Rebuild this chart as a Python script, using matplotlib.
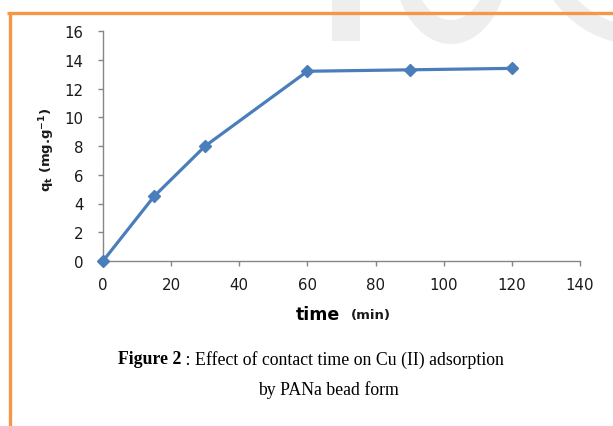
import matplotlib
matplotlib.use("Agg")
import matplotlib.pyplot as plt
from matplotlib.patches import Rectangle, Ellipse

# Data
time_min = [0, 15, 30, 60, 90, 120]
qt_values = [0, 4.5, 8.0, 13.2, 13.3, 13.4]
x_ticks = [0, 20, 40, 60, 80, 100, 120, 140]
y_ticks = [0, 2, 4, 6, 8, 10, 12, 14, 16]

W, H = 613, 427
fig = plt.figure(figsize=(W / 100, H / 100), dpi=100)
fig.patch.set_facecolor("white")

# overlay in pixel coordinates (top-left origin)
ov = fig.add_axes([0, 0, 1, 1], zorder=0)
ov.set_xlim(0, W)
ov.set_ylim(H, 0)
ov.axis("off")

wm = "#eeeeee"
# watermark fragments
ov.add_patch(Rectangle((332, -10), 28, 52, color=wm, lw=0))
ov.add_patch(Ellipse((451, -40), 116, 170, color=wm, lw=0))
ov.add_patch(Ellipse((451, -40), 78, 122, color="white", lw=0))
ov.add_patch(Ellipse((640, -60), 212, 212, color=wm, lw=0))
ov.add_patch(Ellipse((640, -60), 174, 174, color="white", lw=0))

# orange frame
orange = "#f79646"
ov.plot([7, W], [14, 14], color=orange, lw=2.4, solid_capstyle="butt", zorder=3)
ov.plot([10, 10], [13, H], color=orange, lw=2.4, solid_capstyle="butt", zorder=3)

# main axes
ax = fig.add_axes([103 / W, 1 - 262 / H, (580 - 103) / W, (262 - 32) / H], zorder=2)
ax.set_facecolor("none")
ax.plot(time_min, qt_values, color="#4a7ebb", lw=2.3, marker="D", markersize=6.5,
        markerfacecolor="#4a7ebb", markeredgecolor="#4a7ebb", clip_on=False, zorder=5)

ax.set_xlim(0, 140)
ax.set_ylim(0, 16)
ax.set_xticks(x_ticks)
ax.set_yticks(y_ticks)
ax.set_xticklabels([str(v) for v in x_ticks])
ax.set_yticklabels([str(v) for v in y_ticks])

grey = "#868686"
for s in ["top", "right"]:
    ax.spines[s].set_visible(False)
for s in ["left", "bottom"]:
    ax.spines[s].set_color(grey)
    ax.spines[s].set_linewidth(1.0)
ax.tick_params(axis="both", direction="out", length=3.6, width=1.0, color=grey,
               labelsize=10.8, labelcolor="#1a1a1a")
ax.tick_params(axis="y", pad=10.5)
ax.tick_params(axis="x", pad=8)

ax.set_ylabel(r"$\mathbf{q_t}$ (mg.g$^{\mathbf{-1}}$)", fontsize=9.5, fontweight="bold",
              color="#1a1a1a")
ax.yaxis.set_label_coords((57 - 103) / (580 - 103), 0.49)

# x label
ov.text(318, 315, "time", fontsize=12.5, fontweight="bold", ha="center", va="center", color="black")
ov.text(371, 316, "(min)", fontsize=9.5, fontweight="bold", ha="center", va="center", color="#1a1a1a")

# caption
cap_size = 12.8
t1 = ov.text(118, 360, "Figure 2", family="Liberation Serif", fontsize=cap_size, fontweight="bold",
             ha="left", va="center", color="black")
ov.annotate(" : Effect of contact time on Cu (II) adsorption", xy=(1, 0.5), xycoords=t1,
            family="Liberation Serif", fontsize=cap_size, ha="left", va="center", color="black")
ov.text(329, 390, "by PANa bead form", family="Liberation Serif", fontsize=cap_size,
        ha="center", va="center", color="black")

fig.savefig("out.png", dpi=100)
